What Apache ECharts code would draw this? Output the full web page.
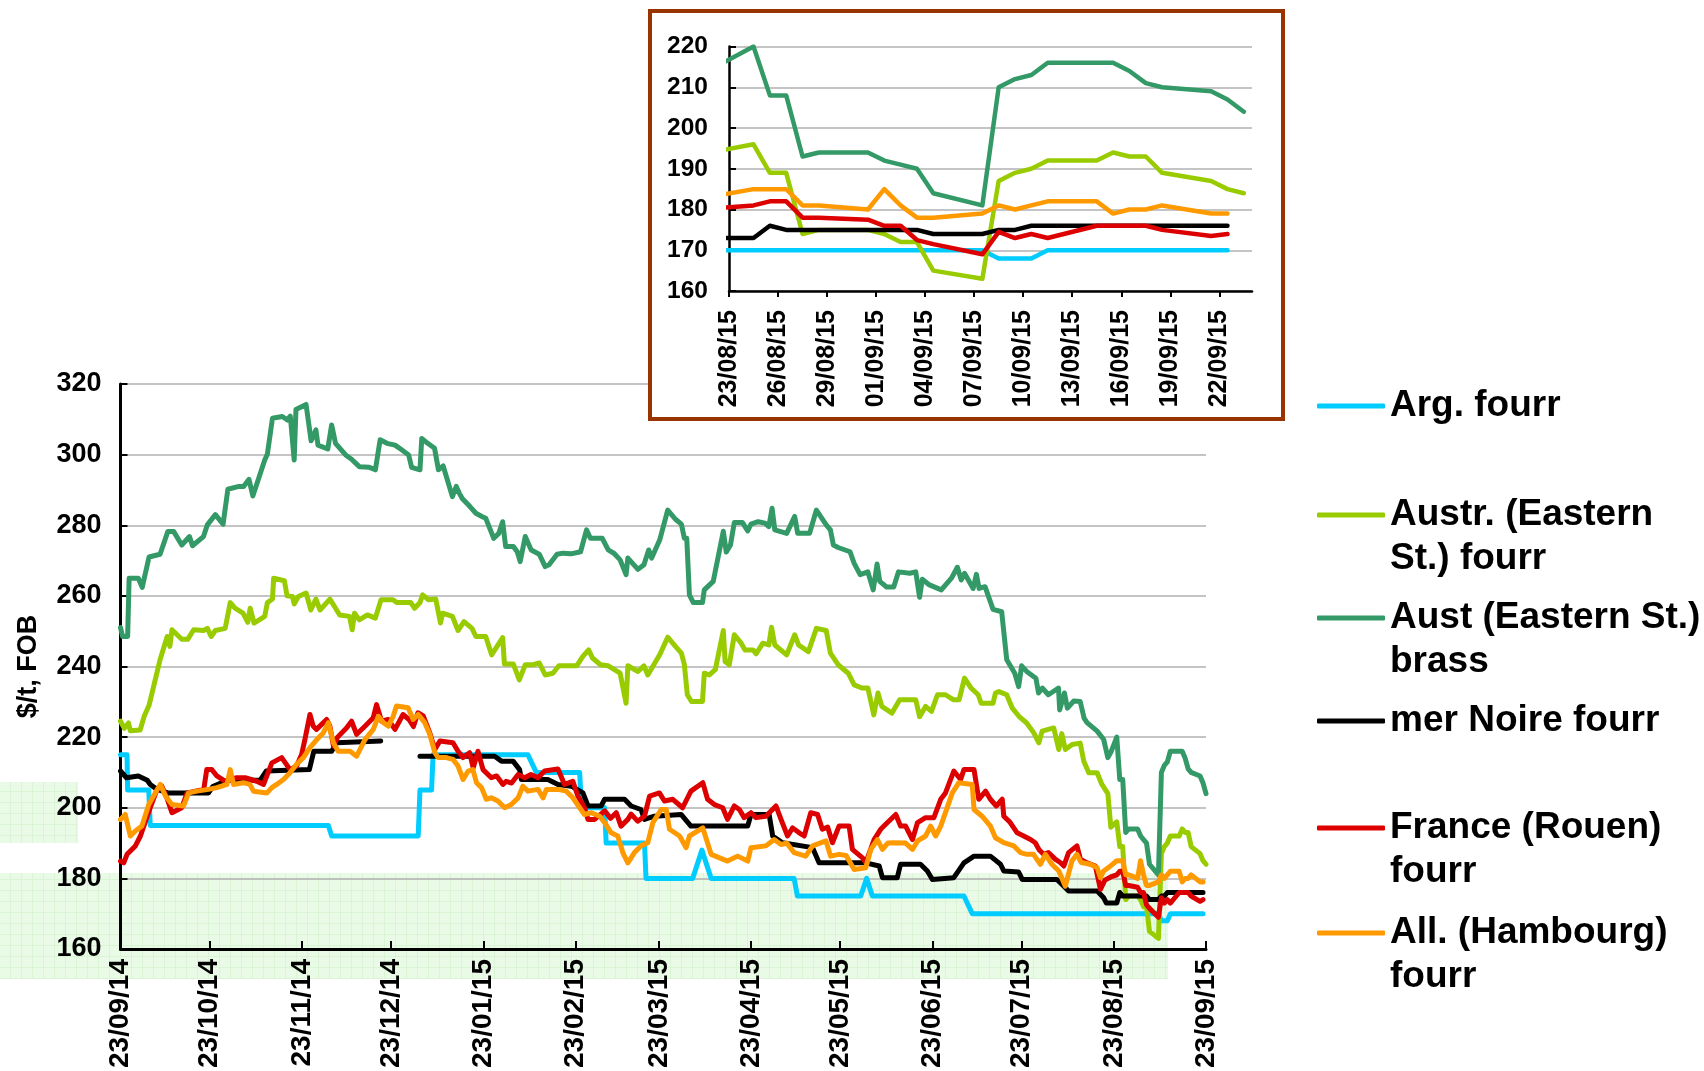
<!DOCTYPE html>
<html><head><meta charset="utf-8">
<script src="https://cdn.jsdelivr.net/npm/echarts@6/dist/echarts.min.js"></script>
<style>html,body{margin:0;padding:0;background:#fff;}#chart{width:1704px;height:1071px;}</style>
</head><body><div id="chart"></div>
<script>
// ---------------- DATA ----------------
const seriesNames = ['Arg. fourr','Austr. (Eastern St.) fourr','Aust (Eastern St.) brass','mer Noire fourr','France (Rouen) fourr','All. (Hambourg) fourr'];
const legendLabels = ['Arg. fourr','Austr. (Eastern\nSt.) fourr','Aust (Eastern St.)\nbrass','mer Noire fourr','France (Rouen)\nfourr','All. (Hambourg)\nfourr'];
const seriesColors = ['#00CCFF','#99CC00','#339966','#000000','#DD0000','#FF9900'];
const yAxisName = '$/t, FOB';

const mainTickLabels = ['23/09/14','23/10/14','23/11/14','23/12/14','23/01/15','23/02/15','23/03/15','23/04/15','23/05/15','23/06/15','23/07/15','23/08/15','23/09/15'];
const insetTickLabels = ['23/08/15','26/08/15','29/08/15','01/09/15','04/09/15','07/09/15','10/09/15','13/09/15','16/09/15','19/09/15','22/09/15'];
const insetAxisEnd = '24/09/15';

// main chart, 23/09/14 .. 21/08/15 : [days since 23/09/14, $/t]
const argMain = [[0,215],[2.2,215],[2.4,205],[9.5,205],[10,195],[69.9,195],[71,192],[100.1,192],[100.7,205],[104.6,205],[105.1,215],[137,215],[139.8,210],[154.4,210],[155,200],[162.8,200],[163.3,190],[176.2,190],[176.7,180],[192.4,180],[195.5,188],[198.6,180],[226.5,180],[227.6,175],[248.9,175],[250.9,180],[252.8,175],[283.6,175],[286.4,170],[331,170]];
const austrMain = [[0,224.5],[1.3,222.5],[2.7,224],[3.3,221.8],[6.6,222],[8,226],[9.6,229],[13.3,241.9],[15.7,248.5],[16.6,245.7],[17.3,250.4],[20.6,247.7],[22.6,247.7],[24.6,250.4],[27.9,250.2],[29.2,250.8],[30.5,248.5],[31.9,250.2],[35.2,250.8],[36.9,258.1],[38.5,256.5],[41.2,255.1],[42.8,252.5],[43.6,256.5],[44.9,252.3],[48.5,254.2],[49.4,258.1],[51.1,259.1],[51.5,265],[55.1,264.3],[56,260],[57.8,259.8],[58.4,257.7],[59.8,259.8],[62.4,260.8],[64,256],[65.7,259.1],[67.1,256],[70.4,259.1],[73.7,254.6],[77,254.2],[77.9,250.4],[78.7,255.1],[80.3,253.2],[83,254.6],[85.7,253.7],[87.6,258.9],[91.6,258.9],[93,258.1],[97.6,258.1],[98.9,256.5],[100.7,258.1],[101.6,260.3],[103.6,258.9],[106,259.1],[107.6,252.3],[108.3,255.1],[111.6,254.2],[113.5,250.2],[115.5,252.7],[118.2,250.8],[119.5,248.5],[122.8,248.5],[124.8,243.3],[128.5,248.2],[129.1,240.7],[132.1,240.7],[134.1,236.2],[136.1,240.5],[138.8,240.5],[140.8,241],[142.8,237.6],[145.4,238.1],[147.4,240.2],[153.4,240.2],[155.4,242.8],[157.4,244.7],[158.7,242.4],[161.4,240.5],[164,240.2],[168,238.1],[170,229.6],[170.6,240.2],[174,238.6],[176,240.2],[177.3,237.6],[181.3,243.3],[184,248.3],[186.6,245.7],[188.6,243.8],[189.6,240.5],[190.6,232],[192,230.1],[195.7,230.1],[196.3,238.1],[198,237.6],[200,239.1],[202.7,250.2],[203.3,241.4],[204.7,240.5],[206.4,249],[208.7,246.6],[210,244.7],[212.7,244.7],[213.7,243.6],[216,246.6],[218,246.1],[218.9,251.1],[220,246.1],[224,243.3],[226.7,249],[228,246.1],[231.3,244.2],[234,250.8],[237.3,250.2],[238.7,243.8],[241.3,240.5],[244.7,238.1],[246.7,234.8],[249.3,233.9],[251.3,233.9],[253.3,226.3],[254.7,232.5],[256,228.7],[259.4,226.8],[262,230.6],[267.4,230.6],[268.7,225.8],[270.7,228.7],[272.7,227.3],[274.7,232],[277.4,232],[280,230.6],[282,230.6],[283.8,236.7],[286,233.9],[288.4,232],[289.4,229.6],[293.4,229.6],[294.2,232.5],[295.4,232.9],[298,232],[299.8,228.3],[302.1,225.9],[304.7,224],[307.1,221.2],[308.8,218.4],[309.9,221.7],[313.8,222.6],[315.5,216.5],[316.5,221],[317.7,216.5],[320,217.9],[322.7,218.3],[323.9,213.2],[325.6,209.9],[328.4,209.9],[330,206.6],[332,204]];
const austBrassMain = [[0,251],[0.7,248.5],[2.4,248.5],[2.9,265],[6,265],[7.3,262.4],[9.6,271],[13.3,271.8],[15.9,278.2],[17.9,278.2],[20.6,274.4],[23.2,276.8],[24.2,274.2],[27.9,276.8],[29.2,280.1],[31.9,283],[34.5,280.3],[36.1,290.2],[39.8,291],[41.4,291],[43.2,293],[44.5,288.3],[48.5,298.5],[49.4,300.2],[51.1,310.3],[54.4,310.8],[56.1,309.8],[57.1,310.9],[58.4,298.5],[59,312.8],[62.4,314.2],[64.1,303.9],[65.7,307],[66.4,302.7],[69.7,301.6],[71,308.4],[72.3,303.2],[75.7,299.9],[77.7,298.7],[80.3,296.6],[83.7,296.4],[85.7,295.7],[87.3,304.2],[89.6,303.2],[92.3,302.7],[94.3,301.5],[96.9,299.9],[97.9,296.4],[100.7,295.7],[101.3,304.6],[103.3,303.2],[105.6,301.8],[106.9,295.7],[108.5,296.8],[111.6,288.1],[112.9,291],[113.9,289.1],[114.9,287.6],[117.5,285.3],[119.5,283.4],[121.5,282.5],[122.8,282],[125.5,276.3],[127.2,277.7],[128.5,281],[129.5,274],[132.1,274],[133.4,272.5],[134.4,269.7],[136.1,276.8],[138.1,273],[140.8,271.8],[142.8,268.3],[144.1,268.8],[146.8,271.8],[148.8,272.1],[151.5,271.9],[154.7,272.5],[156.7,278.7],[158,276.3],[162,276.3],[164,273],[166,272],[168,270.2],[170,266],[170.6,270.7],[174,267.5],[176,268.8],[177.6,273],[178.6,270.7],[181.3,275.8],[184,284.3],[186.6,281.7],[188.6,280.3],[189.6,276.3],[190.4,276.3],[191.3,260.3],[192.6,258.1],[195.7,258.1],[196.3,261.7],[199.3,264.1],[202.7,278.3],[203.7,272.4],[205.1,274.4],[206.4,280.8],[209.1,280.8],[210.9,278.4],[212,280.3],[214.4,281],[216.7,280.6],[218,279.6],[219.1,284.8],[220,278.7],[224,277.7],[226.7,282.5],[227.7,277.7],[231.7,277.7],[234,284.3],[237.3,280.1],[238.7,278.7],[239.7,274.4],[241.3,273.7],[245.3,272.5],[246.7,269.2],[248.7,266],[251.3,266.8],[253.1,261.7],[254.4,269],[255.3,264.1],[257.6,262.5],[260,262.5],[261.6,266.8],[265.4,266.4],[267.4,266.8],[268.7,259.6],[269.6,264.7],[272,263.1],[276,261.7],[279.4,265],[281.4,268.1],[282.7,264.5],[283.8,266.4],[286.7,262.1],[287.8,266.1],[288.7,262.1],[290.7,262.6],[293.4,256.2],[296.3,255.5],[298,241.9],[300.7,238.1],[302,234.3],[303,240.2],[304.7,238.6],[307.8,236.7],[308.7,232.5],[310,233.9],[312,232],[315.4,233.9],[315.8,227.7],[317.4,232.5],[318.4,228.2],[320.5,230.2],[322.7,230.1],[324,225.4],[325,224.1],[328.4,221.7],[330.6,219.3],[332,214.2]];
const merNoireMain = [[0,210.4],[2,208.5],[6,209],[9,207.8],[10,206.6],[12.3,205.2],[16,204.2],[29.6,204.2],[31,206],[36,207.8],[47,207.8],[49,210.4],[63.5,210.8],[65,216],[71,216],[72.7,218.4],[87.5,218.9],[94,'-'],[100.7,214.6],[125.8,214.6],[128.1,213.2],[132,213.2],[134.2,210.8],[134.8,208],[143.7,208],[147.1,206.6],[151.6,206.1],[155.5,204.2],[157.2,200.5],[161.6,200.5],[162.8,202.4],[169.5,202.4],[171.7,200.5],[175,199.5],[176.2,196.7],[179.5,197.6],[188.5,198.1],[191.8,194.8],[210.9,194.8],[212,198.1],[218.1,198.1],[219.3,192],[222.6,190.1],[232.7,188.7],[234.9,184.4],[250.6,184.4],[255.1,183.5],[256.2,180.2],[261.2,180.2],[262.3,184],[269,184],[271.3,182.1],[273,179.7],[280.2,180.2],[283.6,184.4],[287,186.3],[292.5,186.3],[295.9,184],[297,182.1],[302,181.8],[303.2,179.7],[314.9,179.7],[318.8,176.4],[328.4,176.4],[330.6,174.5],[331.5,173]];
const franceMain = [[0,184.9],[1.1,184.4],[2.2,186.8],[5,189.2],[6.7,192],[10,200],[12.3,205.2],[13.9,206.1],[15.5,203],[17.3,198.6],[20.6,200],[22.4,204.2],[28,205.2],[29,210.8],[30.7,210.8],[32.4,209],[35.2,207.5],[39.1,208.5],[41.9,208.5],[45.8,207.5],[48.1,206.6],[50.9,212.7],[54.2,214.2],[57,210.8],[59.2,211.8],[60.9,215.1],[62,219.3],[63.7,226.4],[64.8,223.1],[65.9,222.2],[69.3,225],[70.4,223.1],[71.6,217.5],[73,220],[76,222.6],[77.7,224.5],[79.4,220.8],[82.2,223.1],[85,225.5],[86.1,229.2],[87.8,224.5],[90,225],[92.3,222.2],[95,226.4],[97,225],[98.5,223],[100,226.9],[101.8,226],[104,221.2],[105.7,216.5],[107.4,218.9],[111.8,218.4],[113.5,216],[115.2,214.2],[117.4,215.6],[118.6,211.3],[120.2,216],[121.9,210.8],[124.7,208.5],[126.5,209],[128.6,206.6],[129.7,207.5],[131.5,207],[133.7,209.4],[135.9,208.5],[138,209.4],[140.4,208.5],[142.6,210.4],[147.1,211],[149.3,206.6],[152.1,207.5],[153.8,203.3],[156,200],[157.2,196.7],[159.4,196.7],[162.8,199.1],[164.8,197],[166.7,198.6],[168.3,194.8],[170.6,196.7],[171.7,198.2],[173.9,196.2],[176.2,197.6],[177.9,203.3],[181.2,204.2],[182.9,201.9],[185.7,202.4],[189,200],[191.8,204.7],[195.8,207.1],[197.4,202.4],[199.7,200.9],[202.5,200],[204.1,196.7],[206.4,200.5],[208.1,199.5],[209.7,197.2],[212,198.6],[213.7,197.2],[217,197.6],[220.4,200.5],[222.1,196.7],[224.3,192],[226,194.3],[228.2,192.9],[229.9,192],[232.1,198.6],[234.4,198.1],[236,193.9],[237.8,194.5],[239.4,190.1],[241.6,194.8],[245,194.8],[246.1,188.2],[249.5,185.8],[250.6,184.4],[253.4,191],[255.6,193.9],[257.9,195.8],[260.7,198.1],[262.3,194.8],[264,194.8],[266.3,191],[268,195.8],[270.7,197.2],[273.5,197.2],[275.8,202.4],[277.4,204.2],[280.2,210.4],[282.5,208],[283.6,210.8],[287,210.8],[288.6,202.4],[290.9,204.7],[292.5,202.4],[294.5,200.5],[296.5,202.4],[297,197.6],[299,196],[301.5,192.9],[303.7,192],[306,191],[307.6,190.1],[308.8,188.2],[310.4,186.8],[312,187.3],[314.4,185.4],[316,184.5],[317.2,183.5],[318.8,187.3],[321.6,189.2],[322.8,185.4],[325,184.4],[327.8,183.5],[329.5,176.9],[331,179.5]];
const allMain = [[0,196.7],[1.6,198.1],[3.3,192],[5,193.4],[7.2,194.8],[9.5,200.9],[11.7,204.2],[13.4,206.6],[15.1,203.3],[17.3,200.9],[21.2,200.5],[22.9,204.2],[25.7,204.7],[29.6,205.2],[32.4,205.7],[35.8,206.6],[36.9,210.8],[38,206.6],[41.3,207.1],[43.5,206.6],[44.7,204.7],[49.2,204.2],[50.9,205.7],[52.5,206.6],[54.8,208],[57,209.9],[59.2,212.3],[61.5,214.2],[63.7,217],[66,219.3],[68.2,221.2],[69.9,224.1],[71.6,218.4],[73.2,216],[77.2,216],[79.4,214.6],[82.2,219.3],[85,222.2],[86.7,225.9],[88.4,224.1],[90.1,223.1],[91.7,225.9],[92.8,228.8],[96.7,228.3],[98.4,225],[100.1,226.4],[102.3,224.1],[104,220.8],[105.7,215.6],[106.8,214.2],[109.6,214.2],[111.8,213.7],[113.5,211.8],[115.2,208],[116.9,210.4],[118.5,210.8],[119.7,207.1],[121.4,205.7],[123,202.4],[124.7,202.8],[126.8,202],[129.2,200],[131.4,200.9],[133.7,202.8],[135.3,206.1],[137,204.7],[140.4,205.2],[142.1,202.8],[143.2,205.2],[147.1,205.2],[149.9,204.7],[152.1,202.8],[154.4,200],[156,198.1],[158.3,198.6],[161.1,197.6],[162.8,195.8],[165,192.9],[167.2,192],[168.9,187.3],[170.6,184.4],[172.8,187.3],[175,189.2],[177.3,190.1],[179,195.8],[181.8,199.5],[183.5,199.5],[184.6,193.9],[188,192],[190.2,188.7],[191.3,192],[195.8,194.3],[198.6,186.8],[204.1,184.9],[207.5,186.3],[210.9,184.9],[212,188.7],[217,189.2],[219.8,191],[222.1,189.6],[224,190],[226.5,187.3],[230.4,186.3],[232.7,189.2],[237.2,190.6],[238.8,186.3],[241.6,186.8],[244,186.5],[246.7,182.5],[250.6,183],[252.3,188.2],[254.5,191],[256.2,188.2],[258,190],[260.1,190.1],[264,190],[266.3,188.2],[268,190.6],[270.7,192],[272.4,194.8],[274.1,192],[275.8,194.8],[279.7,204.2],[281.9,207.1],[286.4,206.6],[287,199.5],[289.7,197.6],[292.5,194.8],[294.2,191.5],[297,190.1],[300.4,189.2],[302.6,187.3],[304.8,186.8],[307,186.8],[309.3,184],[311,186.8],[313.2,184],[315.5,182.1],[317.7,177.8],[319.9,184.9],[321.6,186.8],[323,184.5],[326.1,184],[328.4,183],[329.5,180.2],[330.5,182]];

// last month (inset, also end of main chart)
const insetDates = ['22/08/15','24/08/15','25/08/15','26/08/15','27/08/15','28/08/15','31/08/15','01/09/15','02/09/15','03/09/15','04/09/15','07/09/15','08/09/15','09/09/15','10/09/15','11/09/15','14/09/15','15/09/15','16/09/15','17/09/15','18/09/15','21/09/15','22/09/15','23/09/15'];
const argInset       = [170,170,170,170,170,170,170,170,170,170,170,170,168,168,168,170,170,170,170,170,170,170,170,null];
const austrInset     = [194.5,196,189,189,174,175,175,174,172,172,165,163,187,189,190,192,192,194,193,193,189,187,185,184];
const austBrassInset = [215.7,220,208,208,193,194,194,192,191,190,184,181,210,212,213,216,216,216,214,211,210,209,207,204];
const merNoireInset  = [173,173,176,175,175,175,175,175,175,175,174,174,175,175,176,176,176,176,176,176,176,176,176,null];
const franceInset    = [180.4,181,182,182,178,178,177.5,176,176,172.5,171.5,169,174.5,173,174,173,176,176,176,176,175,173.5,174,null];
const allInset       = [183.6,185,185,185,181,181,180,185,181,178,178,179,181,180,181,182,182,179,180,180,181,179,179,null];

const mainData = [argMain, austrMain, austBrassMain, merNoireMain, franceMain, allMain];
const insetData = [argInset, austrInset, austBrassInset, merNoireInset, franceInset, allInset];

// ---------------- HELPERS ----------------
function parseDMY(s){ const p = s.split('/'); return Date.UTC(2000 + (+p[2]), (+p[1]) - 1, +p[0]); }
function dayDiff(a, b){ return Math.round((a - b) / 86400000); }
const mainStart = parseDMY(mainTickLabels[0]);
const insetStart = parseDMY(insetTickLabels[0]);
const mainTickDays = mainTickLabels.map(l => dayDiff(parseDMY(l), mainStart));
const insetTickDays = insetTickLabels.map(l => dayDiff(parseDMY(l), insetStart));
const mainMax = mainTickDays[mainTickDays.length - 1];
const insetMax = dayDiff(parseDMY(insetAxisEnd), insetStart);

const FONT = '"Liberation Sans", Arial, Helvetica, sans-serif';

// green hatched background pattern
const pc = document.createElement('canvas'); pc.width = 11; pc.height = 11;
const pctx = pc.getContext('2d');
pctx.fillStyle = '#e9fae6'; pctx.fillRect(0,0,11,11);
pctx.fillStyle = '#daf4d5'; pctx.fillRect(10,0,1,11); pctx.fillRect(0,10,11,1);
const greenPattern = { image: pc, repeat: 'repeat' };

// ---------------- SERIES ----------------
const series = [];
seriesNames.forEach((name, k) => {
  const tail = insetDates.map((d, i) => [dayDiff(parseDMY(d), mainStart), insetData[k][i]]).filter(p => p[1] != null);
  series.push({
    type: 'line', name, xAxisIndex: 0, yAxisIndex: 0, z: 2,
    data: mainData[k].concat(tail),
    showSymbol: false, symbol: 'none', connectNulls: false, animation: false,
    itemStyle: { color: seriesColors[k] },
    lineStyle: { color: seriesColors[k], width: 5, cap: 'round', join: 'round' }
  });
});
seriesNames.forEach((name, k) => {
  series.push({
    type: 'line', name, xAxisIndex: 1, yAxisIndex: 1, z: 5,
    data: insetDates.map((d, i) => [dayDiff(parseDMY(d), insetStart) + 0.5, insetData[k][i]]).filter(p => p[1] != null),
    showSymbol: false, symbol: 'none', clip: true, animation: false,
    itemStyle: { color: seriesColors[k] },
    lineStyle: { color: seriesColors[k], width: 4.5, cap: 'round', join: 'round' }
  });
});

// ---------------- LEGENDS ----------------
// icon is centred on the text block; a leading empty line puts it on the first text line
const LH = 44;
const legendCentres = [406, 515, 618, 721, 828, 933];
const legends = seriesNames.map((name, k) => {
  const two = legendLabels[k].indexOf('\n') >= 0;
  const c = legendCentres[k];
  return {
    orient: 'vertical', left: 1317, top: two ? c - 1.5 * LH : c - LH / 2,
    padding: 0, selectedMode: false, z: 6,
    icon: 'roundRect', itemWidth: 68, itemHeight: 5,
    data: [name],
    formatter: () => two ? '\n' + legendLabels[k] : legendLabels[k],
    textStyle: { fontFamily: FONT, fontWeight: 'bold', fontSize: 37, lineHeight: LH, color: '#000' }
  };
});

// ---------------- OPTION ----------------
const labelBase = { fontFamily: FONT, fontWeight: 'bold', color: '#000' };
const option = {
  backgroundColor: '#fff',
  animation: false,
  graphic: { elements: [
    { type: 'rect', z: 0, shape: { x: 0, y: 782, width: 78, height: 61 }, style: { fill: greenPattern } },
    { type: 'rect', z: 0, shape: { x: 0, y: 873, width: 1168, height: 106 }, style: { fill: greenPattern } },
    { type: 'rect', z: 3, shape: { x: 650, y: 11, width: 633, height: 408 }, style: { fill: '#fff', stroke: '#993300', lineWidth: 4 } }
  ]},
  grid: [
    { left: 120.5, top: 384, width: 1085.5, height: 565, containLabel: false },
    { left: 729, top: 46.5, width: 523, height: 244.5, containLabel: false }
  ],
  xAxis: [
    { type: 'value', gridIndex: 0, min: 0, max: mainMax, z: 1,
      axisLine: { show: true, lineStyle: { color: '#000', width: 3 } },
      axisTick: { show: true, inside: true, length: 8, customValues: mainTickDays, lineStyle: { color: '#000', width: 2 } },
      axisLabel: Object.assign({ rotate: 90, fontSize: 28, margin: 10, customValues: mainTickDays,
        formatter: v => { const i = mainTickDays.indexOf(Math.round(v)); return i >= 0 ? mainTickLabels[i] : ''; } }, labelBase),
      splitLine: { show: false } },
    { type: 'value', gridIndex: 1, min: 0, max: insetMax, z: 4,
      axisLine: { show: true, lineStyle: { color: '#000', width: 2.5 } },
      axisTick: { show: true, inside: false, length: 6, customValues: insetTickDays, lineStyle: { color: '#000', width: 2 } },
      axisLabel: Object.assign({ rotate: 90, fontSize: 25, margin: 19, customValues: insetTickDays,
        formatter: v => { const i = insetTickDays.indexOf(Math.round(v)); return i >= 0 ? insetTickLabels[i] : ''; } }, labelBase),
      splitLine: { show: false } }
  ],
  yAxis: [
    { type: 'value', gridIndex: 0, min: 160, max: 320, interval: 20, z: 1,
      name: yAxisName, nameLocation: 'middle', nameRotate: 90, nameGap: 78,
      nameTextStyle: Object.assign({ fontSize: 27 }, labelBase),
      axisLine: { show: true, lineStyle: { color: '#000', width: 3 } },
      axisTick: { show: true, inside: true, length: 7, lineStyle: { color: '#000', width: 2 } },
      axisLabel: Object.assign({ fontSize: 27, margin: 19 }, labelBase),
      splitLine: { show: true, lineStyle: { color: '#b0b0b0', width: 1.5 } } },
    { type: 'value', gridIndex: 1, min: 160, max: 220, interval: 10, z: 4,
      axisLine: { show: true, lineStyle: { color: '#000', width: 2.5 } },
      axisTick: { show: true, inside: true, length: 7, lineStyle: { color: '#000', width: 2 } },
      axisLabel: Object.assign({ fontSize: 24.5, margin: 21 }, labelBase),
      splitLine: { show: true, lineStyle: { color: '#b0b0b0', width: 1.5 } } }
  ],
  legend: legends,
  series: series
};
const chart = echarts.init(document.getElementById('chart'), null, { renderer: 'canvas' });
chart.setOption(option);
</script></body></html>
